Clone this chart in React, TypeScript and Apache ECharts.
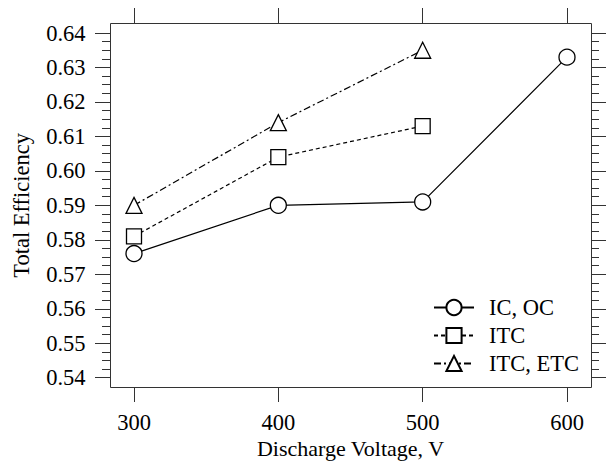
import React, { useEffect, useRef } from "react";
import * as echarts from "echarts";

const voltages = [300, 400, 500, 600];
const icOc = [0.576, 0.590, 0.591, 0.633];
const itc = [0.581, 0.604, 0.613];
const itcEtc = [0.590, 0.614, 0.635];
const seriesNames = ["IC, OC", "ITC", "ITC, ETC"];
const xTitle = "Discharge Voltage, V";
const yTitle = "Total Efficiency";

const FONT = "Liberation Serif";
const FS = 22.5;
const AXIS_COLOR = "#333";

export default function App() {
  const ref = useRef<HTMLDivElement>(null);
  useEffect(() => {
    if (!ref.current) return;
    const chart = echarts.init(ref.current, null, { renderer: "svg" });
    const pairs = (vals: number[]) => vals.map((v, i) => [voltages[i], v]);
    const xBase = {
      type: "value" as const,
      min: 300,
      max: 600,
      interval: 100,
      axisLine: { show: false },
      axisTick: { show: true, length: 15, inside: false, lineStyle: { color: AXIS_COLOR, width: 1 } },
      splitLine: { show: false },
    };
    const yBase = {
      type: "value" as const,
      min: 0.54,
      max: 0.64,
      interval: 0.01,
      axisLine: { show: false },
      axisTick: { show: true, length: 15, inside: false, lineStyle: { color: AXIS_COLOR, width: 1 } },
      minorTick: { show: true, splitNumber: 4, length: 8, lineStyle: { color: AXIS_COLOR, width: 1 } },
      splitLine: { show: false },
      minorSplitLine: { show: false },
    };
    const lineSeries = (name: string, data: number[], symbol: string, size: number, type: any) => ({
      name,
      type: "line" as const,
      data: pairs(data),
      symbol,
      symbolSize: size,
      showAllSymbol: true,
      lineStyle: { color: "#000", width: 1.2, type },
      itemStyle: { color: "#fff", borderColor: "#000", borderWidth: 1.3 },
      z: 3,
    });
    chart.setOption({
      animation: false,
      backgroundColor: "#fff",
      textStyle: { fontFamily: FONT },
      grid: {
        left: 134,
        right: 44,
        top: 33,
        bottom: 83.3,
        containLabel: false,
        outerBoundsMode: "none",
      },
      graphic: [
        {
          type: "rect",
          shape: { x: 110.5, y: 23.5, width: 481, height: 364 },
          style: { fill: "none", stroke: AXIS_COLOR, lineWidth: 1 },
          z: 1,
        },
      ],
      xAxis: [
        {
          ...xBase,
          position: "bottom",
          offset: 9.3,
          name: xTitle,
          nameLocation: "middle",
          nameGap: 52,
          nameMoveOverlap: false,
          nameTextStyle: { fontFamily: FONT, fontSize: 22, color: "#000", lineHeight: 18 },
          axisLabel: {
            show: true,
            margin: 26.5,
            fontFamily: FONT,
            fontSize: FS,
            color: "#000",
            lineHeight: 18,
          },
        },
        {
          ...xBase,
          position: "top",
          offset: 10,
          axisLabel: { show: false },
        },
      ],
      yAxis: [
        {
          ...yBase,
          position: "left",
          offset: 24,
          name: yTitle,
          nameLocation: "middle",
          nameGap: 77,
          nameMoveOverlap: false,
          nameTextStyle: { fontFamily: FONT, fontSize: FS, color: "#000" },
          axisLabel: {
            show: true,
            margin: 24.5,
            fontFamily: FONT,
            fontSize: FS,
            color: "#000",
            formatter: (v: number) => v.toFixed(2),
          },
        },
        {
          ...yBase,
          position: "right",
          offset: 24,
          axisLabel: { show: false },
        },
      ],
      legend: {
        orient: "vertical",
        left: 433,
        top: 296,
        padding: 0,
        itemWidth: 40,
        itemHeight: 19,
        itemGap: 5,
        data: seriesNames,
        textStyle: { fontFamily: FONT, fontSize: FS, color: "#000", padding: [0, 0, 0, 10] },
      },
      series: [
        lineSeries(seriesNames[0], icOc, "circle", 16, "solid"),
        lineSeries(seriesNames[1], itc, "rect", 15, [4, 3]),
        lineSeries(seriesNames[2], itcEtc, "triangle", 16, [7, 3, 2, 3]),
      ],
    });
    return () => chart.dispose();
  }, []);
  return (
    <div
      ref={ref}
      style={{ position: "fixed", left: 0, top: 0, width: 611, height: 461, background: "#fff" }}
    />
  );
}
